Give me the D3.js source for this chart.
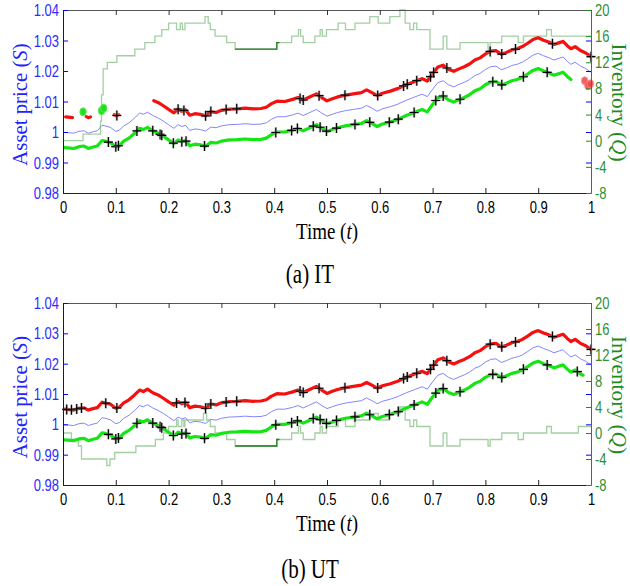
<!DOCTYPE html>
<html>
<head>
<meta charset="utf-8">
<script src="https://cdn.jsdelivr.net/npm/d3@7"></script>
<style>
  body { margin: 0; background: #fff; }
  svg { display: block; }
</style>
</head>
<body>
<div id="chart"></div>
<script>
// time grid shared by both panels
const T = [0,0.01,0.02,0.03,0.04,0.048,0.055,0.065,0.074,0.08,
  0.09,0.1,0.107,0.115,0.125,0.135,0.145,0.152,0.16,0.17,
  0.18,0.19,0.2,0.21,0.218,0.225,0.232,0.24,0.25,0.26,
  0.27,0.28,0.29,0.3,0.315,0.33,0.345,0.36,0.375,0.385,
  0.395,0.405,0.42,0.435,0.445,0.455,0.465,0.48,0.49,0.5,
  0.51,0.52,0.535,0.55,0.565,0.575,0.585,0.595,0.605,0.62,
  0.635,0.65,0.665,0.68,0.69,0.7,0.71,0.72,0.73,0.74,
  0.75,0.76,0.77,0.78,0.79,0.8,0.81,0.82,0.83,0.84,
  0.85,0.86,0.87,0.88,0.89,0.9,0.91,0.92,0.93,0.94,
  0.947,0.955,0.962,0.97,0.98,0.99,1];

// mid price
const mid = [0.9999,0.9998,0.9996,1.0002,1.0004,0.9996,1.0000,1.0004,1.0022,1.0020,
  1.0015,1.0002,1.0006,1.0020,1.0030,1.0045,1.0062,1.0058,1.0065,1.0054,
  1.0046,1.0036,1.0024,1.0012,1.0024,1.0018,1.0022,1.0005,1.0010,1.0008,
  1.0003,1.0016,1.0014,1.0020,1.0024,1.0025,1.0027,1.0025,1.0026,1.0030,
  1.0042,1.0050,1.0050,1.0056,1.0062,1.0054,1.0062,1.0074,1.0062,1.0052,
  1.0058,1.0064,1.0070,1.0074,1.0078,1.0087,1.0078,1.0068,1.0076,1.0083,
  1.0092,1.0104,1.0114,1.0124,1.0116,1.0140,1.0162,1.0168,1.0155,1.0148,
  1.0156,1.0163,1.0172,1.0185,1.0192,1.0205,1.0214,1.0216,1.0204,1.0210,
  1.0218,1.0222,1.0229,1.0240,1.0252,1.0258,1.0250,1.0244,1.0236,1.0242,
  1.0246,1.0232,1.0222,1.0229,1.0216,1.0208,1.0196];

// ask quotes (red)
const ask = [1.0050,1.0049,1.0047,1.0053,1.0054,1.0047,1.0051,1.0055,1.0073,1.0070,
  1.0066,1.0053,1.0057,1.0071,1.0081,1.0096,1.0113,1.0108,1.0116,1.0104,
  1.0097,1.0086,1.0074,1.0063,1.0075,1.0068,1.0073,1.0055,1.0060,1.0058,
  1.0053,1.0067,1.0064,1.0071,1.0075,1.0076,1.0078,1.0076,1.0077,1.0081,
  1.0093,1.0101,1.0100,1.0107,1.0113,1.0105,1.0113,1.0125,1.0113,1.0102,
  1.0109,1.0115,1.0121,1.0125,1.0129,1.0138,1.0129,1.0119,1.0127,1.0134,
  1.0143,1.0155,1.0165,1.0175,1.0167,1.0191,1.0213,1.0219,1.0206,1.0199,
  1.0207,1.0214,1.0223,1.0236,1.0243,1.0256,1.0265,1.0267,1.0255,1.0261,
  1.0269,1.0273,1.0280,1.0291,1.0303,1.0309,1.0301,1.0295,1.0287,1.0293,
  1.0297,1.0283,1.0273,1.0280,1.0267,1.0259,1.0247];

// bid quotes (green)
const bid = [0.9949,0.9948,0.9946,0.9952,0.9954,0.9946,0.9950,0.9954,0.9972,0.9970,
  0.9965,0.9952,0.9956,0.9970,0.9980,0.9995,1.0012,1.0008,1.0015,1.0004,
  0.9996,0.9986,0.9974,0.9962,0.9974,0.9968,0.9972,0.9955,0.9960,0.9958,
  0.9953,0.9966,0.9964,0.9970,0.9974,0.9975,0.9977,0.9975,0.9976,0.9980,
  0.9992,1.0000,1.0000,1.0006,1.0012,1.0004,1.0012,1.0024,1.0012,1.0002,
  1.0008,1.0014,1.0020,1.0024,1.0028,1.0037,1.0028,1.0018,1.0026,1.0033,
  1.0042,1.0054,1.0064,1.0074,1.0066,1.0090,1.0112,1.0118,1.0105,1.0098,
  1.0106,1.0113,1.0122,1.0135,1.0142,1.0155,1.0164,1.0166,1.0154,1.0160,
  1.0168,1.0172,1.0179,1.0190,1.0202,1.0208,1.0200,1.0194,1.0186,1.0192,
  1.0196,1.0182,1.0172,1.0179,1.0166,1.0158,1.0146];

// (a) IT
const itAskShown = [[0.005,0.018],[0.044,0.052],[0.097,0.106],[0.172,1]];
const itBidShown = [[0,0.962]];
const itAskTrades = [0.102,0.218,0.229,0.27,0.28,0.309,0.329,0.449,0.455,0.485,0.534,0.596,
  0.645,0.652,0.67,0.696,0.702,0.727,0.809,0.831,0.857,0.927,1.0];
const itBidTrades = [0.086,0.1,0.105,0.14,0.17,0.184,0.187,0.209,0.225,0.233,0.268,0.403,
  0.433,0.444,0.474,0.487,0.499,0.518,0.553,0.581,0.618,0.635,0.665,0.706,0.72,0.752,
  0.814,0.831,0.872,0.917];
const itBuyT = [0.038,0.073,0.077];
const itBuyP = [1.0066,1.0070,1.0078];
const itSellT = [0.988,0.994,0.999];
const itSellP = [1.0168,1.0152,1.0158];
const itInvT = [0,0.038,0.071,0.073,0.076,0.084,0.102,0.136,0.155,0.174,
  0.187,0.2,0.215,0.222,0.226,0.231,0.269,0.275,0.279,0.288,
  0.31,0.326,0.405,0.433,0.446,0.45,0.455,0.477,0.487,0.491,
  0.499,0.521,0.535,0.553,0.581,0.597,0.619,0.638,0.648,0.657,
  0.664,0.67,0.695,0.72,0.727,0.752,0.805,0.809,0.831,0.862,
  0.872,0.916,0.925];
const itInvQ = [0,1,3,7,11,12,13,14,15,16,
  17,18,17,18,17,18,19,18,17,16,
  15,14,15,16,17,16,15,16,17,16,
  17,18,17,18,19,18,19,20,18,17,
  18,17,14,16,14,15,14,15,16,15,
  16,17,16];

// (b) UT
const utAskShown = [[0,1]];
const utBidShown = [[0,0.985]];
const utAskTrades = [0.007,0.016,0.026,0.035,0.081,0.102,0.215,0.231,0.27,0.28,0.309,0.329,
  0.449,0.455,0.485,0.534,0.596,0.645,0.652,0.67,0.696,0.702,0.727,0.809,0.831,0.857,0.927,1.0];
const utBidTrades = [0.086,0.1,0.105,0.14,0.17,0.184,0.187,0.209,0.225,0.233,0.268,0.403,
  0.433,0.444,0.474,0.487,0.499,0.518,0.553,0.581,0.618,0.635,0.665,0.706,0.72,0.752,
  0.814,0.831,0.872,0.917,0.974];
const utInvT = [0,0.016,0.029,0.035,0.083,0.089,0.098,0.138,0.175,0.19,
  0.2,0.215,0.218,0.225,0.229,0.231,0.266,0.272,0.279,0.288,
  0.31,0.326,0.405,0.433,0.446,0.45,0.455,0.477,0.487,0.491,
  0.499,0.521,0.535,0.553,0.581,0.597,0.619,0.638,0.648,0.657,
  0.664,0.67,0.695,0.72,0.727,0.752,0.805,0.809,0.831,0.862,
  0.872,0.916,0.925,0.976];
const utInvQ = [0,-1,-2,-4,-5,-4,-3,-2,-1,0,
  1,2,1,2,1,2,3,2,1,0,
  -1,-2,-1,0,1,0,-1,0,1,0,
  1,2,1,2,3,2,3,4,2,1,
  2,1,-2,0,-2,-1,-2,-1,0,-1,
  0,1,0,1];

const darkInv = [0.326, 0.41];

const xTicks = [0,0.1,0.2,0.3,0.4,0.5,0.6,0.7,0.8,0.9,1];
const priceTicks = [0.98,0.99,1,1.01,1.02,1.03,1.04];
const invTicks = [-8,-4,0,4,8,12,16,20];

// ---------------------------------------------------------------
const width = 630, height = 586;
const left = 63, right = 591;
const stretch = "scale(1,1.25)";
const serif = "'Liberation Serif','Times New Roman',serif";
const sans = "'Liberation Sans',Arial,sans-serif";
const blue = "#0000ff", green = "#1f8a1f";

const svg = d3.select("#chart").append("svg")
  .attr("width", width).attr("height", height);

function interp(ts, vs, t) {
  const i = d3.bisectLeft(ts, t);
  if (i <= 0) return vs[0];
  if (i >= ts.length) return vs[vs.length - 1];
  const f = (t - ts[i - 1]) / (ts[i] - ts[i - 1]);
  return vs[i - 1] + f * (vs[i] - vs[i - 1]);
}

function pieces(vs, shown) {
  return shown.map(([a, b]) => {
    let pts = [{t: a, v: interp(T, vs, a)}];
    T.forEach((t, i) => { if (t > a && t < b) pts.push({t: t, v: vs[i]}); });
    pts.push({t: b, v: interp(T, vs, b)});
    return pts;
  });
}

function stretchedText(g, x, y, rot, sy, parts, size, color) {
  const t = g.append("g")
    .attr("transform", `translate(${x},${y}) scale(1,${sy}) rotate(${rot})`)
    .append("text")
    .attr("text-anchor", "middle")
    .attr("dy", "0.35em")
    .style("font-family", serif)
    .style("font-size", size + "px")
    .attr("fill", color);
  parts.forEach(p => {
    t.append("tspan").text(p[0]).style("font-style", p[1] ? "italic" : "normal");
  });
}

function drawPanel(top, bottom, cfg) {
  const x = d3.scaleLinear().domain([0, 1]).range([left, right]);
  const yP = d3.scaleLinear().domain([0.98, 1.04]).range([bottom, top]);
  const yQ = d3.scaleLinear().domain([-8, 20]).range([bottom, top]);

  const g = svg.append("g");
  const clipId = "clip" + cfg.id;
  svg.append("clipPath").attr("id", clipId).append("rect")
    .attr("x", left).attr("y", top - 6).attr("width", right - left + 6).attr("height", bottom - top + 6);
  const plot = g.append("g").attr("clip-path", `url(#${clipId})`);

  // inventory
  let inv = cfg.invT.map((t, i) => ({t: t, q: cfg.invQ[i]}));
  inv.push({t: 1, q: cfg.invQ[cfg.invQ.length - 1]});
  const stepLine = d3.line().x(d => x(d.t)).y(d => yQ(d.q)).curve(d3.curveStepAfter);
  plot.append("path").datum(inv)
    .attr("d", stepLine).attr("fill", "none")
    .attr("stroke", "#a3cfa3").attr("stroke-width", 1.3);
  const dark = inv.filter(d => d.t >= darkInv[0] && d.t < darkInv[1]);
  dark.push({t: darkInv[1], q: dark[dark.length - 1].q});
  plot.append("path").datum(dark)
    .attr("d", stepLine).attr("fill", "none")
    .attr("stroke", "#1f7a1f").attr("stroke-width", 1.3);

  const line = d3.line().x(d => x(d.t)).y(d => yP(d.v));

  // mid price
  plot.append("path").datum(T.map((t, i) => ({t: t, v: mid[i]})))
    .attr("d", line).attr("fill", "none")
    .attr("stroke", "#8585ff").attr("stroke-width", 1);

  // bid / ask
  plot.selectAll(".bid").data(pieces(bid, cfg.bidShown)).enter().append("path")
    .attr("class", "bid").attr("d", line).attr("fill", "none")
    .attr("stroke", "#14e614").attr("stroke-width", 3.2)
    .attr("stroke-linejoin", "round").attr("stroke-linecap", "round");
  plot.selectAll(".ask").data(pieces(ask, cfg.askShown)).enter().append("path")
    .attr("class", "ask").attr("d", line).attr("fill", "none")
    .attr("stroke", "#f50f0f").attr("stroke-width", 3.2)
    .attr("stroke-linejoin", "round").attr("stroke-linecap", "round");

  // market orders
  if (cfg.buyT) {
    plot.selectAll(".buy").data(cfg.buyT).enter().append("ellipse")
      .attr("cx", d => x(d)).attr("cy", (d, i) => yP(cfg.buyP[i]))
      .attr("rx", 3.2).attr("ry", 4).attr("fill", "#22dd22").attr("stroke", "#55ee55");
    plot.selectAll(".sell").data(cfg.sellT).enter().append("ellipse")
      .attr("cx", d => x(d)).attr("cy", (d, i) => yP(cfg.sellP[i]))
      .attr("rx", 3.2).attr("ry", 4).attr("fill", "#ee4444").attr("stroke", "#ff8080")
      .attr("opacity", 0.85);
  }

  // executed limit orders
  const trades = cfg.askTrades.map(t => ({t: t, v: interp(T, ask, t)}))
    .concat(cfg.bidTrades.map(t => ({t: t, v: interp(T, bid, t)})));
  const plus = g.selectAll(".plus" + cfg.id).data(trades).enter().append("g")
    .attr("transform", d => `translate(${x(d.t)},${yP(d.v)})`);
  plus.append("path").attr("d", "M-4.5,0H4.5M0,-5V5")
    .attr("stroke", "#999").attr("stroke-width", 2.6).attr("opacity", 0.5);
  plus.append("path").attr("d", "M-4.5,0H4.5M0,-5V5")
    .attr("stroke", "#000").attr("stroke-width", 1.2);

  // axes
  const ax = g.append("g").attr("transform", `translate(0,${bottom})`)
    .call(d3.axisBottom(x).tickValues(xTicks).tickSize(-5).tickSizeOuter(0).tickFormat(d3.format("~g")));
  ax.select(".domain").attr("stroke", "#222");
  ax.selectAll(".tick line").attr("stroke", "#222");
  ax.selectAll(".tick text").attr("y", 0).attr("dy", null)
    .attr("dominant-baseline", "central")
    .attr("transform", `translate(0,14) ${stretch}`)
    .style("font-family", sans).style("font-size", "13px").attr("fill", "#000");

  const axT = g.append("g").attr("transform", `translate(0,${top})`)
    .call(d3.axisTop(x).tickValues(xTicks).tickSize(-5).tickSizeOuter(0).tickFormat(""));
  axT.select(".domain").attr("stroke", "#555");
  axT.selectAll(".tick line").attr("stroke", "#333");

  const axL = g.append("g").attr("transform", `translate(${left},0)`)
    .call(d3.axisLeft(yP).tickValues(priceTicks).tickSize(-5).tickSizeOuter(0).tickPadding(4).tickFormat(d3.format("~g")));
  axL.select(".domain").attr("stroke", blue);
  axL.selectAll(".tick line").attr("stroke", blue);
  axL.selectAll(".tick text").attr("dy", null).attr("dominant-baseline", "central")
    .attr("transform", stretch)
    .style("font-family", sans).style("font-size", "13px").attr("fill", "#2d2dff");

  const axRB = g.append("g").attr("transform", `translate(${right},0)`)
    .call(d3.axisRight(yP).tickValues(priceTicks.slice(1, -1)).tickSize(-5).tickSizeOuter(0).tickFormat(""));
  axRB.select(".domain").remove();
  axRB.selectAll(".tick line").attr("stroke", blue);

  const axR = g.append("g").attr("transform", `translate(${right},0)`)
    .call(d3.axisRight(yQ).tickValues(invTicks).tickSize(-5).tickSizeOuter(0).tickPadding(4).tickFormat(d => String(d)));
  axR.select(".domain").attr("stroke", green);
  axR.selectAll(".tick line").attr("stroke", green);
  axR.selectAll(".tick text").attr("dy", null).attr("dominant-baseline", "central")
    .attr("transform", stretch)
    .style("font-family", sans).style("font-size", "13px").attr("fill", "#2f8f2f");

  // labels
  const midY = (top + bottom) / 2 + 3;
  stretchedText(g, 20, midY, -90, 1.04, [["Asset price (", false], ["S", true], [")", false]], 20, "#2222ff");
  stretchedText(g, 619, midY - 2, 90, 1.07, [["Inventory (", false], ["Q", true], [")", false]], 20, "#1f8a1f");
  stretchedText(g, 327, bottom + 38, 0, 1.25, [["Time (", false], ["t", true], [")", false]], 19, "#000");
  stretchedText(g, 310, cfg.captionY, 0, 1.25, [[cfg.caption, false]], 21, "#000");
}

drawPanel(10, 193, {
  id: "a", askShown: itAskShown, bidShown: itBidShown,
  askTrades: itAskTrades, bidTrades: itBidTrades,
  buyT: itBuyT, buyP: itBuyP, sellT: itSellT, sellP: itSellP,
  invT: itInvT, invQ: itInvQ, caption: "(a) IT", captionY: 274
});
drawPanel(303, 485, {
  id: "b", askShown: utAskShown, bidShown: utBidShown,
  askTrades: utAskTrades, bidTrades: utBidTrades,
  invT: utInvT, invQ: utInvQ, caption: "(b) UT", captionY: 569
});
</script>
</body>
</html>
